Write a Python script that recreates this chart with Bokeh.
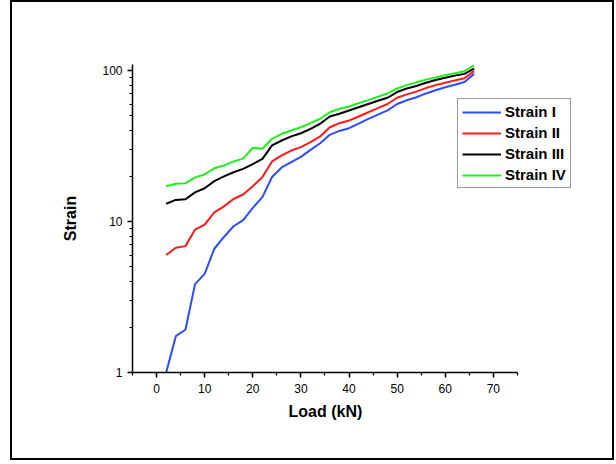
from bokeh.plotting import figure
from bokeh.models import Range1d, FixedTicker, SingleIntervalTicker, PrintfTickFormatter, Legend, LegendItem, Title
from bokeh.embed import file_html
from bokeh.resources import INLINE

load = [2, 4, 6, 8, 10, 12, 14, 16, 18, 20, 22, 24, 26, 28, 30, 32, 34,
        36, 38, 40, 42, 44, 46, 48, 50, 52, 54, 56, 58, 60, 62, 64, 66]
strain_1 = [1.0, 1.74, 1.92, 3.85, 4.5, 6.6, 7.9, 9.3, 10.2, 12.3, 14.5, 19.7, 22.8,
            24.7, 26.8, 29.8, 33.0, 37.5, 39.8, 41.5, 44.5, 47.8, 51.0, 54.5, 60.0,
            63.5, 66.5, 70.5, 74.0, 77.5, 80.5, 84.0, 95.0]
strain_2 = [6.0, 6.7, 6.87, 8.85, 9.55, 11.5, 12.6, 14.1, 15.1, 17.1, 19.7, 25.0, 27.4,
            29.5, 31.1, 33.5, 36.6, 42.1, 44.8, 46.6, 49.6, 52.9, 56.3, 60.0, 66.0,
            69.5, 72.5, 76.5, 80.0, 83.0, 86.0, 89.0, 99.0]
strain_3 = [13.1, 13.9, 14.05, 15.6, 16.6, 18.5, 19.9, 21.2, 22.3, 24.0, 26.0, 31.9, 34.4,
            36.6, 38.4, 41.1, 44.4, 49.6, 51.7, 54.3, 57.1, 60.0, 63.0, 66.0, 72.0,
            76.0, 79.0, 83.0, 86.5, 89.5, 92.5, 95.0, 103.0]
strain_4 = [17.1, 17.8, 17.9, 19.6, 20.5, 22.5, 23.5, 25.0, 26.1, 30.8, 30.3, 35.3, 38.1,
            40.1, 42.1, 44.8, 47.9, 52.9, 55.8, 57.8, 60.7, 63.7, 67.0, 70.5, 76.0,
            80.0, 83.5, 87.0, 90.0, 93.0, 96.0, 99.0, 108.0]

series_names = ["Strain I", "Strain II", "Strain III", "Strain IV"]
series_values = [strain_1, strain_2, strain_3, strain_4]
colors = ["#2b4cff", "#ff1a1a", "#000000", "#22ee22"]

x_ticks_range = (-5, 75)
y_major = [1, 10, 100]
y_minor = [2, 3, 4, 5, 6, 7, 8, 9, 20, 30, 40, 50, 60, 70, 80, 90]

p = figure(width=600, height=456, frame_width=447, frame_height=308,
           y_axis_type="log", output_backend="svg", toolbar_location=None,
           x_range=Range1d(-5, 87.9), y_range=Range1d(1, 109.6),
           min_border_left=120, min_border_top=62, min_border_right=33, min_border_bottom=86)
p.styles = {"border": "2px solid black", "margin-left": "10px"}
p.outline_line_color = None
p.xgrid.visible = False
p.ygrid.visible = False

items = []
for name, vals, c in zip(series_names, series_values, colors):
    r = p.line(load, vals, line_color=c, line_width=2)
    items.append(LegendItem(label=name, renderers=[r]))

FONT = "Liberation Sans"
for ax in (p.xaxis[0], p.yaxis[0]):
    ax.axis_line_width = 1.5
    ax.major_tick_line_width = 1.5
    ax.minor_tick_line_width = 1.2
    ax.major_tick_in = 0
    ax.major_tick_out = 5
    ax.minor_tick_in = 0
    ax.minor_tick_out = 3
    ax.major_label_text_font = FONT
    ax.major_label_text_font_size = "12px"
    ax.major_label_text_color = "black"
    ax.axis_label_text_font = FONT
    ax.axis_label_text_font_style = "bold"
    ax.axis_label_text_font_size = "16px"
    ax.axis_label_text_color = "black"

p.xaxis[0].ticker = SingleIntervalTicker(interval=10, num_minor_ticks=2)
p.xaxis[0].bounds = x_ticks_range
p.xaxis[0].major_label_standoff = 6

xtitle = Title(text="Load (kN)", align="left", offset=156, standoff=10,
               text_font=FONT, text_font_style="bold", text_font_size="16px",
               text_color="black")
p.add_layout(xtitle, "below")

p.yaxis[0].ticker = FixedTicker(ticks=y_major, minor_ticks=y_minor)
p.yaxis[0].formatter = PrintfTickFormatter(format="%d")
p.yaxis[0].axis_label = "Strain"
p.yaxis[0].major_label_standoff = 5
p.yaxis[0].axis_label_standoff = 20

legend = Legend(items=items, location=(325, 184))
legend.label_text_font = FONT
legend.label_text_font_style = "bold"
legend.label_text_font_size = "15px"
legend.label_text_color = "black"
legend.glyph_width = 39
legend.glyph_height = 16
legend.label_height = 16
legend.label_standoff = 4
legend.spacing = 4
legend.padding = 4
legend.margin = 0
legend.border_line_color = "#333333"
legend.border_line_width = 1
legend.background_fill_alpha = 1
p.add_layout(legend, "center")

open("out.html", "w").write(file_html(p, INLINE))
